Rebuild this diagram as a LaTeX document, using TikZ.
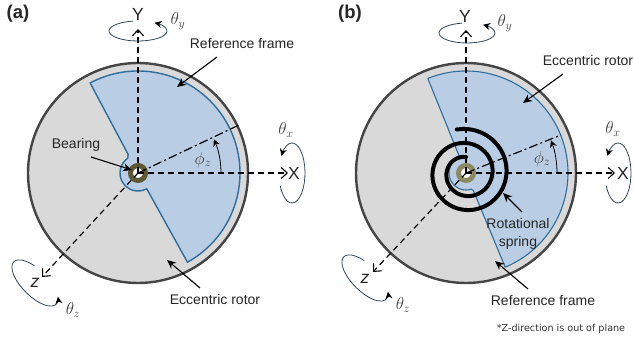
\documentclass[tikz,border=0pt]{standalone}
\usepackage{fontspec}
\setmainfont{Liberation Sans}
\newfontfamily\notefont{DejaVu Sans}
\usetikzlibrary{arrows.meta}
\definecolor{DiscGray}{HTML}{D9D9D9}
\definecolor{RimGray}{HTML}{454545}
\definecolor{RotorBlue}{HTML}{B9CDE5}
\definecolor{RotorEdge}{HTML}{2F6D9C}
\definecolor{BearingOlive}{HTML}{5C5834}
\definecolor{BearingPale}{HTML}{8C8962}
\definecolor{RotLine}{HTML}{2E4A58}
\tikzset{
  axisline/.style={black,line width=1.2pt,dash pattern=on 6pt off 4pt,-{Straight Barb[length=6pt,width=11pt,line width=1.1pt]}},
  philine/.style={black,line width=1.2pt,dash pattern=on 9pt off 3pt on 2pt off 3pt},
  rotline/.style={RotLine,line width=0.8pt,-{Stealth[length=7pt,width=7pt,black]}},
  callout/.style={black,line width=1.1pt,-{Stealth[length=9pt,width=8pt]}},
  labeltext/.style={font=\fontsize{14}{15}\selectfont,text=black!85,inner sep=0pt,align=center},
  axistext/.style={font=\fontsize{17.5}{18}\selectfont,text=black!85,inner sep=0pt},
  symtext/.style={font=\fontsize{18}{18}\selectfont,text=black!75,inner sep=0pt},
  paneltext/.style={font=\fontsize{18.5}{19}\selectfont\bfseries,text=black!85,inner sep=0pt}
}
\begin{document}
\begin{tikzpicture}[x=1pt,y=1pt]
  \useasboundingbox (0,0) rectangle (634,345);
  \coordinate (ac) at (138,172);
  \coordinate (bc) at (466,172);

  \begin{scope}[shift={(138,172)}]
    \draw[RimGray,line width=2.4pt,fill=DiscGray] (0,0) circle (110);
    \draw[RotorEdge,line width=1.4pt,fill=RotorBlue,line join=round] (118:102) arc[start angle=118,end angle=-61,radius=102]
      -- (-61:18) arc[start angle=-61,end angle=-235,radius=18] -- (118:21) -- cycle;
    \draw[BearingOlive,line width=5pt,fill=white] (0,0) circle (7.5);
  \end{scope}

  \begin{scope}[shift={(466,172)}]
    \draw[RimGray,line width=2.4pt,fill=DiscGray] (0,0) circle (110);
    \draw[RotorEdge,line width=1.1pt,fill=RotorBlue,line join=round] (112:102) arc[start angle=112,end angle=-67.4,radius=102]
      -- (-67.4:19) -- (-72:17) arc[start angle=-72,end angle=-110,radius=17] arc[start angle=250,end angle=112,radius=17] -- cycle;
    \draw[BearingPale,line width=5pt,fill=white] (0,0) circle (7.5);
    \draw[black,line width=4pt,line cap=round] plot[smooth,samples=90,domain=-12:720] ({90-\x}:{44-0.0389*\x});
  \end{scope}

  \coordinate (aYend) at (138,316);
  \coordinate (aXend) at (288,172);
  \coordinate (aZend) at (42,68);
  \coordinate (aPhi) at (239,220);
  \draw[axisline] (ac) -- (aYend);
  \draw[axisline] (ac) -- (aXend);
  \draw[axisline] (ac) -- (aZend);
  \draw[philine] (ac) -- (aPhi);
  \draw[black,line width=0.8pt,-{Stealth[length=7pt,width=7pt]}] (221,172) arc[start angle=0,end angle=24,radius=83];

  \coordinate (bYend) at (466,315);
  \coordinate (bXend) at (615,172);
  \coordinate (bZend) at (373,73);
  \coordinate (bPhi) at (561,210);
  \draw[axisline] (bc) -- (bYend);
  \draw[axisline] (bc) -- (bXend);
  \draw[axisline] (bc) -- (bZend);
  \draw[philine] (bc) -- (bPhi);
  \draw[black,line width=0.8pt,-{Stealth[length=7pt,width=7pt]}] (557,172) arc[start angle=0,end angle=21,radius=91];

  \draw[rotline] (138,314)+(100:29 and 10) arc[start angle=100,end angle=415,x radius=29,y radius=10];
  \draw[rotline] (292,172)+(205:13 and 30) arc[start angle=205,end angle=505,x radius=13,y radius=30];
  \begin{scope}[shift={(35,62)},rotate=-45]
    \draw[rotline] (115:30 and 13) arc[start angle=115,end angle=390,x radius=30,y radius=13];
  \end{scope}
  \draw[rotline] (467,312)+(100:28 and 10) arc[start angle=100,end angle=415,x radius=28,y radius=10];
  \draw[rotline] (618,172)+(205:13 and 30) arc[start angle=205,end angle=505,x radius=13,y radius=30];
  \begin{scope}[shift={(365,67)},rotate=-45]
    \draw[rotline] (115:30 and 13) arc[start angle=115,end angle=390,x radius=30,y radius=13];
  \end{scope}

  \node[paneltext] (apanel) at (18,331) {(a)};
  \node[axistext] (aYlabel) at (138,331) {Y};
  \node[axistext] (aXlabel) at (294,172) {X};
  \node[axistext] (aZlabel) at (35,62) {\itshape z};
  \node[symtext] (athetay) at (178,324) {$\theta_y$};
  \node[symtext] (athetax) at (286,215) {$\theta_x$};
  \node[symtext] (athetaz) at (73,35) {$\theta_z$};
  \node[symtext] (aphiz) at (203,185) {$\phi_z$};
  \node[labeltext] (aref) at (242,301) {Reference frame};
  \node[labeltext] (abear) at (76,200) {Bearing};
  \node[labeltext] (aecc) at (215,46) {Eccentric rotor};
  \coordinate (arefpt) at (177,258);
  \coordinate (abearpt) at (132,175);
  \coordinate (aeccpt) at (167,85);
  \draw[callout] (217,288) -- (arefpt);
  \draw[callout] (91,188) -- (abearpt);
  \draw[callout] (200,57) -- (aeccpt);

  \node[paneltext] (bpanel) at (350,331) {(b)};
  \node[axistext] (bYlabel) at (465,329) {Y};
  \node[axistext] (bXlabel) at (623,172) {X};
  \node[axistext] (bZlabel) at (365,66) {\itshape z};
  \node[symtext] (bthetay) at (505,322) {$\theta_y$};
  \node[symtext] (bthetax) at (613,216) {$\theta_x$};
  \node[symtext] (bthetaz) at (403,40) {$\theta_z$};
  \node[symtext] (bphiz) at (542,186) {$\phi_z$};
  \node[labeltext] (becc) at (588,284) {Eccentric rotor};
  \node[labeltext] (bspring) at (518,111) {Rotational\\[3pt]spring};
  \node[labeltext] (bref) at (543,44) {Reference frame};
  \node[font=\notefont\fontsize{9.6}{10}\selectfont,text=black!80,inner sep=0pt] (bnote) at (561,16) {*Z-direction is out of plane};
  \coordinate (beccpt) at (523,242);
  \coordinate (bspringpt) at (503,152);
  \coordinate (brefpt) at (495,84);
  \draw[callout] (563,271) -- (beccpt);
  \draw[callout] (522,133) -- (bspringpt);
  \draw[callout] (528,56) -- (brefpt);
\end{tikzpicture}
\end{document}
